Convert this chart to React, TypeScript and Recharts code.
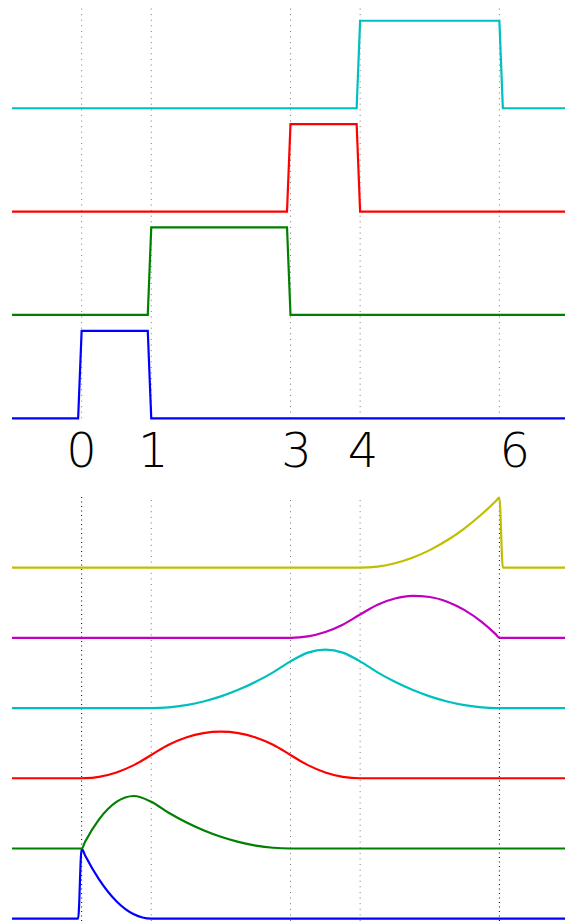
import React from 'react';
import { LineChart, Line, XAxis, YAxis, ReferenceLine } from 'recharts';

// ---- Data ----
const knots = [0, 1, 3, 4, 6];
const knotLabels = ['0', '1', '3', '4', '6'];

// Degree-0 basis (top panel): x positions and values per series
const stepBlueX = [-1, -0.05, 0, 0.95, 1, 7];
const stepBlueY = [0, 0, 1, 1, 0, 0];
const stepGreenX = [-1, 0.95, 1, 2.95, 3, 7];
const stepGreenY = [0, 0, 1, 1, 0, 0];
const stepRedX = [-1, 2.95, 3, 3.95, 4, 7];
const stepRedY = [0, 0, 1, 1, 0, 0];
const stepCyanX = [-1, 3.95, 4, 6, 6.05, 7];
const stepCyanY = [0, 0, 1, 1, 0, 0];

// Degree-2 basis (bottom panel): shared sample positions
const quadX = [-1, -0.05, 0, 0.05, 0.25, 0.5, 0.75, 1, 1.25, 1.5, 1.75, 2, 2.25, 2.5, 2.75, 3,
  3.25, 3.5, 3.75, 4, 4.25, 4.5, 4.75, 5, 5.25, 5.5, 5.75, 5.95, 6, 6.05, 7];
const quadBlue = [0, 0, 1, 0.9025, 0.5625, 0.25, 0.0625, 0, 0, 0, 0, 0, 0, 0, 0, 0,
  0, 0, 0, 0, 0, 0, 0, 0, 0, 0, 0, 0, 0, 0, 0];
const quadGreen = [0, 0, 0, 0.0967, 0.4167, 0.6667, 0.75, 0.6667, 0.5104, 0.375, 0.2604, 0.1667, 0.0938, 0.0417, 0.0104, 0,
  0, 0, 0, 0, 0, 0, 0, 0, 0, 0, 0, 0, 0, 0, 0];
const quadRed = [0, 0, 0, 0.0008, 0.0208, 0.0833, 0.1875, 0.3333, 0.4792, 0.5833, 0.6458, 0.6667, 0.6458, 0.5833, 0.4792, 0.3333,
  0.1875, 0.0833, 0.0208, 0, 0, 0, 0, 0, 0, 0, 0, 0, 0, 0, 0];
const quadCyan = [0, 0, 0, 0, 0, 0, 0, 0, 0.0104, 0.0417, 0.0938, 0.1667, 0.2604, 0.375, 0.5104, 0.6667,
  0.7917, 0.8333, 0.7917, 0.6667, 0.5104, 0.375, 0.2604, 0.1667, 0.0938, 0.0417, 0.0104, 0.0004, 0, 0, 0];
const quadMagenta = [0, 0, 0, 0, 0, 0, 0, 0, 0, 0, 0, 0, 0, 0, 0, 0,
  0.0208, 0.0833, 0.1875, 0.3333, 0.474, 0.5625, 0.599, 0.5833, 0.5156, 0.3958, 0.224, 0.049, 0, 0, 0];
const quadYellow = [0, 0, 0, 0, 0, 0, 0, 0, 0, 0, 0, 0, 0, 0, 0, 0,
  0, 0, 0, 0, 0.0156, 0.0625, 0.1406, 0.25, 0.3906, 0.5625, 0.7656, 0.9506, 1, 0, 0];

// ---- Styling / layout ----
const COLORS = ['#0000ff', '#008000', '#ff0000', '#00bfbf', '#bf00bf', '#bfbf00'];
const TOP_GAP = 1.181;
const BOTTOM_GAP = 1.003;
const LABEL_DX = [0, 2, 6, 3, 15.5];

const stepSeries = [
  [stepBlueX, stepBlueY],
  [stepGreenX, stepGreenY],
  [stepRedX, stepRedY],
  [stepCyanX, stepCyanY],
];
const topData = stepSeries.map(([xs, ys], i) =>
  xs.map((x, j) => ({ x, y: ys[j] + i * TOP_GAP }))
);

const quadSeries = [quadBlue, quadGreen, quadRed, quadCyan, quadMagenta, quadYellow];
const bottomData = quadX.map((x, j) => {
  const row: Record<string, number> = { x };
  quadSeries.forEach((s, i) => {
    row['s' + i] = s[j] + i * BOTTOM_GAP;
  });
  return row;
});

const FONT = "'DejaVu Sans', sans-serif";

const KnotTick = (props: any) => {
  const { x, y, payload } = props;
  const idx = knots.indexOf(payload.value);
  return (
    <text
      x={x + (LABEL_DX[idx] || 0)}
      y={y + 34.5}
      textAnchor="middle"
      fontSize={48}
      fontFamily={FONT}
      fontWeight={200}
      fill="#000"
    >
      {knotLabels[idx]}
    </text>
  );
};

export default function App() {
  return (
    <div style={{ position: 'absolute', left: 0, top: 0, width: 565, height: 921, overflow: 'hidden', background: '#fff' }}>
      <div style={{ position: 'absolute', left: 0, top: 0 }}>
        <LineChart width={569} height={490} margin={{ top: 7, right: 0, left: 12, bottom: 0 }}>
          <XAxis
            type="number"
            dataKey="x"
            domain={[-1, 7]}
            ticks={knots}
            interval={0}
            axisLine={false}
            tickLine={false}
            tickSize={0}
            tickMargin={14}
            height={71.7}
            tick={<KnotTick />}
            allowDuplicatedCategory={false}
          />
          <YAxis type="number" hide domain={[0, 4.7]} />
          {knots.map((k) => (
            <ReferenceLine key={'t' + k} x={k} stroke="#777" strokeWidth={1} strokeDasharray="1 4.6" />
          ))}
          {topData.map((d, i) => (
            <Line
              key={'top' + i}
              data={d}
              dataKey="y"
              type="linear"
              stroke={COLORS[i]}
              strokeWidth={2.2}
              dot={false}
              isAnimationActive={false}
            />
          ))}
        </LineChart>
      </div>
      <div style={{ position: 'absolute', left: 0, top: 490 }}>
        <LineChart width={569} height={431} data={bottomData} margin={{ top: 7, right: 0, left: 12, bottom: 0 }}>
          <XAxis type="number" dataKey="x" domain={[-1, 7]} hide />
          <YAxis type="number" hide domain={[-0.033, 6.024]} />
          {knots.map((k) => (
            <ReferenceLine
              key={'b' + k}
              x={k}
              stroke={k === 0 || k === 6 ? '#000' : '#777'}
              strokeWidth={1}
              strokeDasharray={k === 0 || k === 6 ? '1 3.5' : '1 4.6'}
            />
          ))}
          {quadSeries.map((_, i) => (
            <Line
              key={'bot' + i}
              dataKey={'s' + i}
              type="monotone"
              stroke={COLORS[i]}
              strokeWidth={2.2}
              dot={false}
              isAnimationActive={false}
            />
          ))}
        </LineChart>
      </div>
    </div>
  );
}
